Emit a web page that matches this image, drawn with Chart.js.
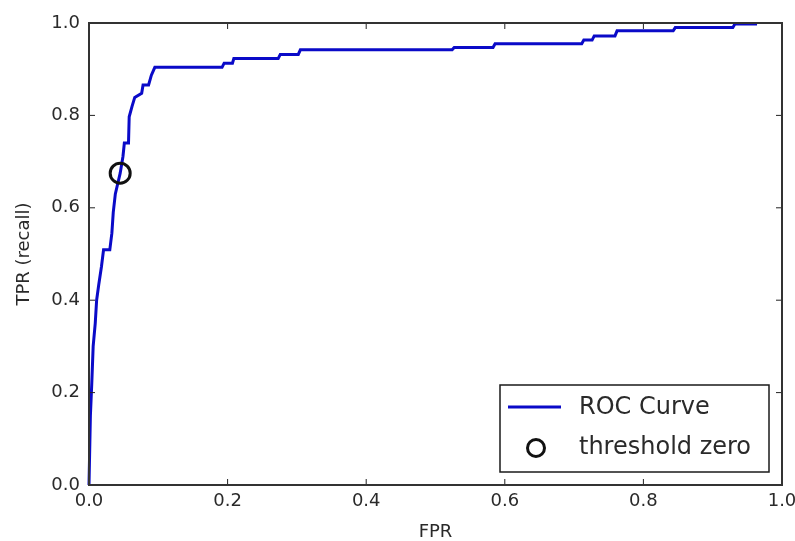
<!DOCTYPE html>
<html>
<head>
<meta charset="utf-8">
<script src="https://cdn.jsdelivr.net/npm/chart.js@4/dist/chart.umd.min.js"></script>
<style>
  html, body { margin: 0; padding: 0; background: #fff; }
  #wrap { width: 795px; height: 541px; }
</style>
</head>
<body>
<div id="wrap"><canvas id="roc" width="795" height="541"></canvas></div>
<script>
// ================= DATA =================
const fpr = [0.000, 0.002, 0.004, 0.006, 0.009, 0.011, 0.014, 0.018, 0.021, 0.030,
  0.033, 0.035, 0.038, 0.045, 0.049, 0.051, 0.057, 0.058, 0.062, 0.066,
  0.076, 0.078, 0.086, 0.090, 0.095, 0.192, 0.195, 0.207, 0.209, 0.273,
  0.276, 0.302, 0.305, 0.524, 0.527, 0.583, 0.586, 0.711, 0.714, 0.726,
  0.729, 0.759, 0.762, 0.843, 0.846, 0.929, 0.932, 0.964];
const tpr = [0.000, 0.150, 0.220, 0.300, 0.350, 0.400, 0.433, 0.473, 0.509, 0.509,
  0.545, 0.590, 0.630, 0.675, 0.711, 0.740, 0.740, 0.797, 0.819, 0.839,
  0.848, 0.866, 0.866, 0.887, 0.904, 0.904, 0.913, 0.913, 0.923, 0.923,
  0.932, 0.932, 0.942, 0.942, 0.947, 0.947, 0.955, 0.955, 0.963, 0.963,
  0.972, 0.972, 0.983, 0.983, 0.990, 0.990, 0.998, 0.998];
const thresholdFpr = [0.045];
const thresholdTpr = [0.675];
const xTicks = [0.0, 0.2, 0.4, 0.6, 0.8, 1.0];
const yTicks = [0.0, 0.2, 0.4, 0.6, 0.8, 1.0];
const seriesLabels = ["ROC Curve", "threshold zero"];

const FONT = "'DejaVu Sans', sans-serif";
const TEXT = "#2a2a2a";
const BLUE = "#0a0ac8";

// ================= PLUGINS =================
// matplotlib style frame + inward ticks on all four sides
const framePlugin = {
  id: "frame",
  afterDatasetsDraw(chart) {
    const { ctx, chartArea: a, scales } = chart;
    ctx.save();
    ctx.strokeStyle = "#222";
    ctx.lineWidth = 1;
    const len = 6;
    scales.x.ticks.forEach(t => {
      const px = scales.x.getPixelForValue(t.value);
      ctx.beginPath();
      ctx.moveTo(px, a.bottom); ctx.lineTo(px, a.bottom - len);
      ctx.moveTo(px, a.top); ctx.lineTo(px, a.top + len);
      ctx.stroke();
    });
    scales.y.ticks.forEach(t => {
      const py = scales.y.getPixelForValue(t.value);
      ctx.beginPath();
      ctx.moveTo(a.left, py); ctx.lineTo(a.left + len, py);
      ctx.moveTo(a.right, py); ctx.lineTo(a.right - len, py);
      ctx.stroke();
    });
    ctx.lineWidth = 2;
    ctx.strokeStyle = "#333";
    ctx.strokeRect(a.left, a.top, a.right - a.left, a.bottom - a.top);
    ctx.restore();
  }
};

// boxed legend in the lower right of the plot
const legendBox = {
  id: "legendBox",
  afterDraw(chart) {
    const { ctx, chartArea: a } = chart;
    const w = 269, h = 87;
    const x0 = a.right - 13 - w, y0 = a.bottom - 13 - h;
    ctx.save();
    ctx.fillStyle = "#fff";
    ctx.fillRect(x0, y0, w, h);
    ctx.strokeStyle = "#1a1a1a";
    ctx.lineWidth = 1.5;
    ctx.strokeRect(x0, y0, w, h);

    const ds = chart.data.datasets;
    // line entry
    ctx.strokeStyle = ds[0].borderColor;
    ctx.lineWidth = ds[0].borderWidth;
    ctx.beginPath();
    ctx.moveTo(x0 + 8, y0 + 22);
    ctx.lineTo(x0 + 61, y0 + 22);
    ctx.stroke();
    // marker entry
    ctx.strokeStyle = ds[1].pointBorderColor;
    ctx.lineWidth = ds[1].pointBorderWidth;
    ctx.beginPath();
    ctx.arc(x0 + 36, y0 + 63, 8.5, 0, Math.PI * 2);
    ctx.stroke();

    ctx.fillStyle = TEXT;
    ctx.font = "24px " + FONT;
    ctx.textBaseline = "middle";
    ctx.fillText(ds[0].label, x0 + 79, y0 + 23);
    ctx.fillText(ds[1].label, x0 + 79, y0 + 63);
    ctx.restore();
  }
};

// ================= CHART =================
const ctx = document.getElementById("roc");

new Chart(ctx, {
  type: "scatter",
  data: {
    datasets: [{
      label: seriesLabels[0],
      data: fpr.map((v, i) => ({ x: v, y: tpr[i] })),
      showLine: true,
      borderColor: BLUE,
      borderWidth: 3,
      pointRadius: 0,
      fill: false,
      tension: 0,
      clip: false,
      order: 2
    }, {
      label: seriesLabels[1],
      data: thresholdFpr.map((v, i) => ({ x: v, y: thresholdTpr[i] })),
      showLine: false,
      pointRadius: 10,
      pointBorderWidth: 3,
      pointBorderColor: "#111",
      pointBackgroundColor: "rgba(0,0,0,0)",
      clip: false,
      order: 1
    }]
  },
  options: {
    responsive: false,
    animation: false,
    events: [],
    layout: { padding: { top: 23, right: 13, left: 0, bottom: 0 } },
    plugins: { legend: { display: false }, tooltip: { enabled: false } },
    scales: {
      x: {
        type: "linear",
        min: 0, max: 1,
        afterBuildTicks: s => { s.ticks = xTicks.map(v => ({ value: v })); },
        afterFit: s => { s.height = 56; s.paddingLeft = 0; s.paddingRight = 0; },
        grid: { display: false, drawTicks: false },
        border: { display: false },
        ticks: {
          padding: 6,
          color: TEXT,
          font: { family: FONT, size: 18 },
          callback: v => Number(v).toFixed(1)
        },
        title: {
          display: true, text: "FPR", color: TEXT,
          font: { family: FONT, size: 18, lineHeight: 1 },
          padding: { top: 0, bottom: 0 }
        }
      },
      y: {
        type: "linear",
        min: 0, max: 1,
        afterBuildTicks: s => { s.ticks = yTicks.map(v => ({ value: v })); },
        afterFit: s => { s.width = 89; s.paddingTop = 0; s.paddingBottom = 0; },
        grid: { display: false, drawTicks: false },
        border: { display: false },
        ticks: {
          padding: 9,
          color: TEXT,
          font: { family: FONT, size: 18 },
          callback: v => Number(v).toFixed(1)
        },
        title: {
          display: true, text: "TPR (recall)", color: TEXT,
          font: { family: FONT, size: 18, lineHeight: 1 },
          padding: { top: 15, bottom: 0 }
        }
      }
    }
  },
  plugins: [framePlugin, legendBox]
});
</script>
</body>
</html>
